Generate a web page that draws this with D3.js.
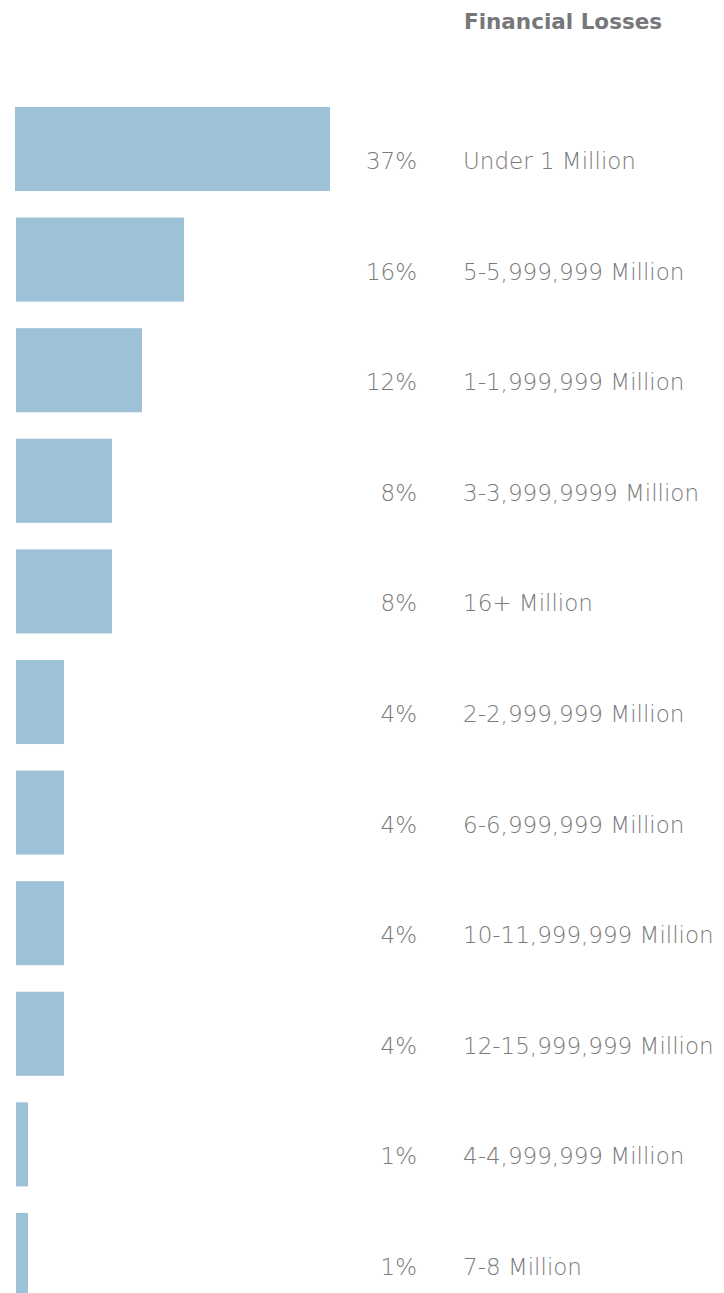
<!DOCTYPE html>
<html>
<head>
<meta charset="utf-8">
<script src="https://cdn.jsdelivr.net/npm/d3@7"></script>
<style>
  body { margin: 0; background: #fff; }
  svg text { font-family: "DejaVu Sans", sans-serif; }
</style>
</head>
<body>
<div id="chart"></div>
<script>
// Financial losses, share of respondents per range
var categories = [
  'Under 1 Million',
  '5-5,999,999 Million',
  '1-1,999,999 Million',
  '3-3,999,9999 Million',
  '16+ Million',
  '2-2,999,999 Million',
  '6-6,999,999 Million',
  '10-11,999,999 Million',
  '12-15,999,999 Million',
  '4-4,999,999 Million',
  '7-8 Million'
];
var percents = [37, 16, 12, 8, 8, 4, 4, 4, 4, 1, 1];
var title = 'Financial Losses';

var width = 724, height = 1293;

var svg = d3.select('#chart').append('svg')
  .attr('width', width)
  .attr('height', height);

var rows = categories.map((c, i) => ({ name: c, value: percents[i] }));

// bars in the original are not quite proportional, so the scale bends a little
var x = d3.scaleLinear()
  .domain([0, 8, 12, 16, 37])
  .range([0, 96, 126, 168, 315]);

var y = d3.scaleBand()
  .domain(categories)
  .range([107, 1297])
  .paddingInner(0.24)
  .paddingOuter(0);

// Title
svg.append('text')
  .attr('x', 464)
  .attr('y', 29)
  .attr('fill', '#76777a')
  .attr('font-size', 21.5)
  .attr('font-weight', 'bold')
  .text(title);

var row = svg.selectAll('g.row')
  .data(rows)
  .join('g')
    .attr('class', 'row');

row.append('rect')
  .attr('x', (d, i) => i === 0 ? 15 : 16)
  .attr('y', d => y(d.name))
  .attr('width', d => x(d.value))
  .attr('height', y.bandwidth())
  .attr('fill', '#9dc1d6');

// Percent labels, right aligned
row.append('text')
  .attr('x', 417)
  .attr('y', d => y(d.name) + y.bandwidth() / 2 + 12)
  .attr('dy', '0.35em')
  .attr('text-anchor', 'end')
  .attr('font-size', 23)
  .attr('font-weight', 200)
  .attr('fill', '#7a7a7a')
  .text(d => d.value + '%');

// Category labels
row.append('text')
  .attr('x', 463)
  .attr('y', d => y(d.name) + y.bandwidth() / 2 + 12)
  .attr('dy', '0.35em')
  .attr('font-size', 23)
  .attr('font-weight', 200)
  .attr('fill', '#7a7a7a')
  .text(d => d.name);
</script>
</body>
</html>
